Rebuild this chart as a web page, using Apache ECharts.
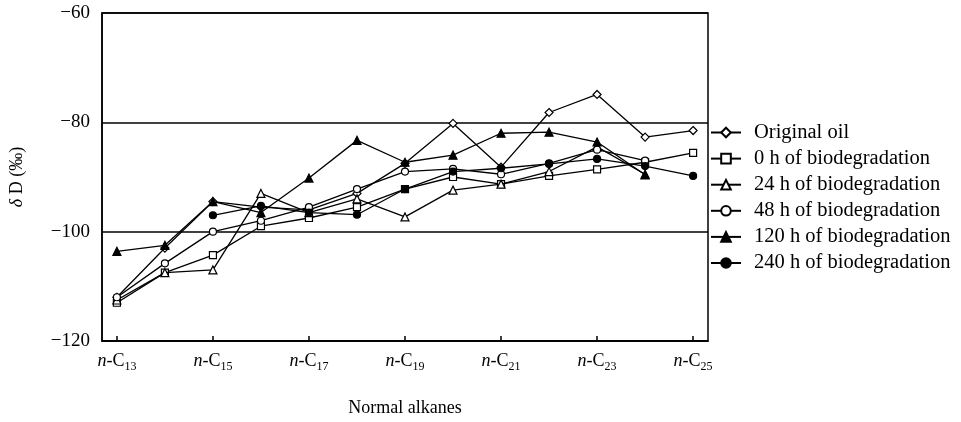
<!DOCTYPE html>
<html>
<head>
<meta charset="utf-8">
<script src="https://cdn.jsdelivr.net/npm/echarts@6/dist/echarts.min.js"></script>
<style>html,body{margin:0;padding:0;background:#fff}#c{width:961px;height:422px}</style>
</head>
<body>
<div id="c"></div>
<script>
// carbon numbers of n-alkanes (n-C13 ... n-C25)
const carbons = [13,14,15,16,17,18,19,20,21,22,23,24,25];
const tickCarbons = [13,15,17,19,21,23,25];
const yTicks = [-120,-100,-80,-60];

const seriesNames = ['Original oil','0 h of biodegradation','24 h of biodegradation','48 h of biodegradation','120 h of biodegradation','240 h of biodegradation'];

const originalOil = [-112,-103,-94.5,-95.5,-96,-93,-87.5,-80.2,-88.2,-78.2,-74.9,-82.7,-81.5];
const h0   = [-113,-107.5,-104.3,-99,-97.5,-95.5,-92.2,-90,-91.3,-89.8,-88.6,-87.3,-85.6];
const h24  = [-112.5,-107.5,-107,-93,-96.5,-94,-97.3,-92.4,-91.3,-89,-84.5,-89.5,null];
const h48  = [-112,-105.8,-100,-98,-95.5,-92.2,-89,-88.5,-89.5,-87.5,-85,-87,null];
const h120 = [-103.6,-102.5,-94.5,-96.5,-90.2,-83.3,-87.3,-86,-82,-81.8,-83.6,-89.6,null];
const h240 = [null,null,-97,-95.3,-96.5,-96.9,-92.2,-89,-88.4,-87.6,-86.7,-88,-89.8];

const seriesData = [originalOil,h0,h24,h48,h120,h240];
const symbols = ['diamond','rect','triangle','circle','triangle','circle'];
const filled  = [false,false,false,false,true,true];
const sizes   = [8,7,8,7,8,7];

const font = 'Liberation Serif, Times New Roman, serif';

function pairs(arr){ return carbons.map((c,i)=>[c,arr[i]]).filter(p=>p[1]!==null); }

const chart = echarts.init(document.getElementById('c'), null, {renderer:'canvas'});
chart.setOption({
  animation:false,
  backgroundColor:'#fff',
  grid:{left:100, right:253, top:13, bottom:79, show:true, borderColor:'#000', borderWidth:1.5, backgroundColor:'transparent'},
  legend:{
    orient:'vertical', left:705, top:117, itemWidth:30, itemHeight:12, itemGap:5.1,
    data:seriesNames,
    textStyle:{fontFamily:font, fontSize:20.5, color:'#000', padding:[0,0,0,8]},
    inactiveColor:'#000'
  },
  xAxis:{
    type:'value', min:12.69, max:25.31,
    name:'Normal alkanes', nameLocation:'middle', nameGap:58,
    nameTextStyle:{fontFamily:font, fontSize:18, color:'#000'},
    axisLine:{show:true, lineStyle:{color:'#000', width:1.5}},
    axisTick:{show:true, inside:true, length:5, lineStyle:{color:'#000', width:1.5}, customValues:tickCarbons},
    axisLabel:{
      customValues:tickCarbons, margin:8, color:'#000',
      formatter:v=>'{i|n}{t|-C}{s|'+Math.round(v)+'}',
      rich:{
        i:{fontFamily:font, fontSize:18, fontStyle:'italic', color:'#000'},
        t:{fontFamily:font, fontSize:18, color:'#000'},
        s:{fontFamily:font, fontSize:12, color:'#000', padding:[12,0,0,0]}
      }
    },
    splitLine:{show:false}
  },
  yAxis:{
    type:'value', min:-120, max:-60, interval:20,
    name:'{d|δ}{t| D (‰)}', nameLocation:'middle', nameGap:76, nameRotate:90,
    nameTextStyle:{rich:{
      d:{fontFamily:font, fontSize:18, fontStyle:'italic', color:'#000'},
      t:{fontFamily:font, fontSize:18, color:'#000'}
    }},
    axisLine:{show:true, lineStyle:{color:'#000', width:1.5}},
    axisTick:{show:false},
    axisLabel:{fontFamily:font, fontSize:19, color:'#000', margin:12, formatter:v=>String(v).replace('-','\u2212')},
    splitLine:{show:true, lineStyle:{color:'#000', width:1.5}}
  },
  series:seriesNames.map((n,k)=>({
    name:n, type:'line', data:pairs(seriesData[k]),
    symbol:symbols[k], symbolSize:sizes[k], showSymbol:true, connectNulls:false,
    lineStyle:{color:'#000', width:1.3},
    itemStyle:{color:filled[k]?'#000':'#fff', borderColor:'#000', borderWidth:1.2},
    z:2+k
  }))
});
</script>
</body>
</html>
